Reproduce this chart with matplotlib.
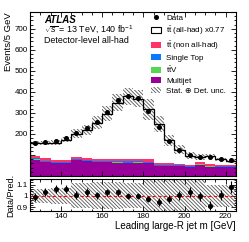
import numpy as np
import matplotlib
matplotlib.use('Agg')
import matplotlib.pyplot as plt
from matplotlib.ticker import MultipleLocator, FuncFormatter
from matplotlib.patches import Patch
from matplotlib.lines import Line2D

plt.rcParams['font.family'] = ['Liberation Sans', 'DejaVu Sans']
plt.rcParams['mathtext.fontset'] = 'custom'
plt.rcParams['mathtext.rm'] = 'Liberation Sans'
plt.rcParams['mathtext.it'] = 'Liberation Sans:italic'
plt.rcParams['mathtext.bf'] = 'Liberation Sans:bold'
plt.rcParams['hatch.linewidth'] = 0.6

# ---- data ----
bin_edges = np.arange(125, 226, 5)
data = [157, 162, 168, 182, 203, 226, 255, 305, 360, 379, 369, 307, 233, 165, 126, 100, 91, 88, 79, 75]
data_err = [6, 6, 6, 6.5, 7, 7.5, 8, 9, 10, 10, 10, 9, 8, 6.5, 5, 4.5, 4, 4, 3.5, 3.5]
multijet = [78, 67, 62, 62, 74, 71, 66, 66, 63, 62, 63, 60, 48, 47, 46, 42, 54, 45, 43, 43]
ttv = [1.5] * 20
single_top = [4, 4, 4, 4, 5, 5, 5, 5, 5, 6, 6, 6, 4, 4, 3, 3, 3, 3, 3, 3]
tt_nonallhad = [12, 12, 8, 8, 10, 10, 10, 10, 12, 12, 12, 12, 8, 7, 7, 6, 6, 6, 6, 6]
tt_allhad = [63, 72, 83, 96, 111, 131, 171, 213, 268, 297, 286, 237, 185, 110, 68, 44, 27, 41, 25, 16]
rel_unc = [0.065, 0.065, 0.07, 0.07, 0.11, 0.11, 0.12, 0.12, 0.12, 0.11, 0.11,
           0.16, 0.16, 0.16, 0.16, 0.16, 0.16, 0.10, 0.10, 0.10]

c_mj = '#990099'
c_ttv = '#55d655'
c_st = '#0a78ff'
c_nah = '#ff3366'
hatch = '\\' * 9
hcol = '#555555'

data = np.array(data, float)
data_err = np.array(data_err, float)
layers = [np.array(multijet, float), np.array(ttv, float), np.array(single_top, float),
          np.array(tt_nonallhad, float)]
colors = [c_mj, c_ttv, c_st, c_nah]
allhad = np.array(tt_allhad, float)
rel_unc = np.array(rel_unc)
centers = 0.5 * (bin_edges[:-1] + bin_edges[1:])

fig = plt.figure(figsize=(2.49, 2.42), dpi=100)
ax = fig.add_axes([30/249, 66/242, 206/249, 164/242])
rax = fig.add_axes([30/249, 31/242, 206/249, 32/242])

base = np.zeros(20)
for vals, col in zip(layers, colors):
    ax.stairs(base + vals, bin_edges, baseline=base, fill=True, color=col, lw=0)
    base = base + vals
total = base + allhad
ax.stairs(total, bin_edges, baseline=base, fill=True, facecolor='white', lw=0)
ax.stairs(total * (1 + rel_unc), bin_edges, baseline=total * (1 - rel_unc), fill=True,
          facecolor='none', edgecolor=hcol, hatch=hatch, lw=0)
ax.stairs(total, bin_edges, color='black', lw=0.9)
ax.errorbar(centers, data, yerr=data_err, fmt='o', color='black', ms=2.6, lw=0.8, capsize=0)

ax.set_xlim(125, 225)
ax.set_ylim(0, 780)
ax.yaxis.set_major_locator(MultipleLocator(100))
ax.yaxis.set_minor_locator(MultipleLocator(20))
ax.yaxis.set_major_formatter(FuncFormatter(lambda v, p: '' if v < 150 else '%d' % v))
ax.set_ylabel('Events/5 GeV', fontsize=6.8, loc='top', labelpad=1)

ax.text(0.068, 0.935, 'ATLAS', transform=ax.transAxes, fontsize=7, fontweight='bold',
        fontstyle='italic', va='baseline')
ax.text(0.068, 0.872, r'$\sqrt{s}$ = 13 TeV, 140 fb$^{-1}$', transform=ax.transAxes,
        fontsize=6.4, va='baseline')
ax.text(0.068, 0.812, 'Detector-level all-had', transform=ax.transAxes, fontsize=6.4,
        va='baseline')

handles = [
    Line2D([], [], marker='o', color='black', ls='none', ms=2.6),
    Patch(facecolor='white', edgecolor='black', lw=0.8),
    Patch(facecolor=c_nah, lw=0),
    Patch(facecolor=c_st, lw=0),
    Patch(facecolor=c_ttv, lw=0),
    Patch(facecolor=c_mj, lw=0),
    Patch(facecolor='white', edgecolor=hcol, hatch=hatch, lw=0),
]
labels = ['Data', r'$\mathrm{t\bar{t}}$ (all-had) x0.77', r'$\mathrm{t\bar{t}}$ (non all-had)',
          'Single Top', r'$\mathrm{t\bar{t}V}$', 'Multijet', 'Stat. ⊕ Det. unc.']
ax.legend(handles, labels, loc='upper left', bbox_to_anchor=(0.587, 0.985), frameon=False,
          fontsize=5.8, handlelength=1.3, handleheight=0.8, labelspacing=0.28,
          handletextpad=0.6, borderpad=0, borderaxespad=0)

# ratio
ratio = data / total
ratio_err = data_err / total
rax.stairs(1 + rel_unc, bin_edges, baseline=1 - rel_unc, fill=True, facecolor='none',
           edgecolor=hcol, hatch=hatch, lw=0)
rax.axhline(1, color='red', ls=(0, (3, 2)), lw=0.8)
rax.errorbar(centers, ratio, yerr=ratio_err, fmt='o', color='black', ms=2.6, lw=0.8, capsize=0)
rax.set_xlim(125, 225)
rax.set_ylim(0.865, 1.15)
rax.set_yticks([0.9, 1.0, 1.1])
rax.set_yticklabels(['0.9', '1', '1.1'])
rax.yaxis.set_minor_locator(MultipleLocator(0.02))
rax.set_ylabel('Data/Pred.', fontsize=6.5, labelpad=1)
rax.set_xlabel('Leading large-R jet m [GeV]', fontsize=7, loc='right', labelpad=1)

for a in (ax, rax):
    a.xaxis.set_major_locator(MultipleLocator(20))
    a.xaxis.set_minor_locator(MultipleLocator(5))
    a.tick_params(which='both', direction='in', top=True, right=True, labelsize=5.8, pad=1.5,
                  width=0.6)
    a.tick_params(which='major', length=3.5)
    a.tick_params(which='minor', length=1.8)
    for s in a.spines.values():
        s.set_linewidth(0.8)
ax.tick_params(labelbottom=False)

fig.savefig('out.png', dpi=100)
